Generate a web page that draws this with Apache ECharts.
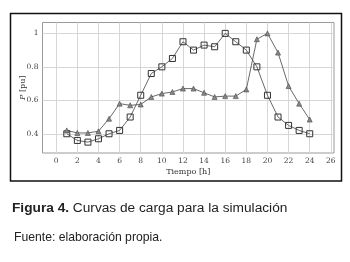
<!DOCTYPE html>
<html>
<head>
<meta charset="utf-8">
<script src="https://cdn.jsdelivr.net/npm/echarts@6/dist/echarts.min.js"></script>
<style>
  html, body { margin: 0; padding: 0; background: #fff; }
  #chart { width: 350px; height: 262px; }
</style>
</head>
<body>
<div id="chart"></div>
<script>
// hours of the day
const hours = [1, 2, 3, 4, 5, 6, 7, 8, 9, 10, 11, 12, 13, 14, 15, 16, 17, 18, 19, 20, 21, 22, 23, 24];
// load curve with square marks
const squareLoad = [0.40, 0.36, 0.35, 0.37, 0.40, 0.42, 0.50, 0.63, 0.76, 0.80, 0.85, 0.95,
  0.90, 0.93, 0.92, 1.00, 0.95, 0.90, 0.80, 0.63, 0.50, 0.45, 0.42, 0.40];
// load curve with triangle marks
const triangleLoad = [0.42, 0.405, 0.405, 0.415, 0.49, 0.58, 0.57, 0.575, 0.62, 0.64, 0.65, 0.67,
  0.67, 0.645, 0.62, 0.625, 0.625, 0.665, 0.965, 1.00, 0.885, 0.685, 0.58, 0.485];
const xTicks = [0, 2, 4, 6, 8, 10, 12, 14, 16, 18, 20, 22, 24, 26];
const yTicks = [0.4, 0.6, 0.8, 1];

const serif = '"DejaVu Serif", "Liberation Serif", serif';
const sans = '"Liberation Sans", Arial, sans-serif';

const toPairs = (xs, ys) => xs.map((x, i) => [x, ys[i]]);

const chart = echarts.init(document.getElementById('chart'), null, { renderer: 'canvas' });

// grid lines drawn as mark lines at the tick values
const gridLines = xTicks.map(v => ({ xAxis: v })).concat(yTicks.map(v => ({ yAxis: v })));

const option = {
  animation: false,
  grid: {
    left: 42.5, top: 22.5, width: 291.5, height: 130.5,
    show: true, borderColor: '#9a9a9a', borderWidth: 1
  },
  xAxis: {
    type: 'value',
    min: -1.3, max: 26.3,
    name: 'Tiempo [h]',
    nameLocation: 'middle',
    nameGap: 15,
    nameMoveOverlap: false,
    nameTextStyle: { fontFamily: serif, fontSize: 8, color: '#333' },
    axisLine: { show: false },
    axisTick: { show: true, inside: true, length: 2, customValues: xTicks, lineStyle: { color: '#999' } },
    axisLabel: { customValues: xTicks, fontFamily: serif, fontSize: 7.5, color: '#444', margin: 4 },
    splitLine: { show: false }
  },
  yAxis: {
    type: 'value',
    min: 0.285, max: 1.065,
    name: '{i|P} [pu]',
    nameLocation: 'middle',
    nameGap: 16,
    nameRotate: 90,
    nameMoveOverlap: false,
    nameTextStyle: {
      fontFamily: serif, fontSize: 8, color: '#333',
      rich: { i: { fontFamily: serif, fontStyle: 'italic', fontSize: 8, color: '#333' } }
    },
    axisLine: { show: false },
    axisTick: { show: true, inside: true, length: 2, customValues: yTicks, lineStyle: { color: '#999' } },
    axisLabel: { customValues: yTicks, fontFamily: serif, fontSize: 7.5, color: '#444', margin: 4 },
    splitLine: { show: false }
  },
  series: [
    {
      type: 'line',
      data: toPairs(hours, squareLoad),
      symbol: 'rect',
      symbolSize: 6,
      showAllSymbol: true,
      z: 3,
      lineStyle: { color: '#444', width: 0.8 },
      itemStyle: { color: 'rgba(255,255,255,0)', borderColor: '#333', borderWidth: 1 },
      markLine: {
        silent: true,
        symbol: ['none', 'none'],
        label: { show: false },
        z: 1,
        lineStyle: { color: '#d6d6d6', width: 1, type: 'solid' },
        data: gridLines
      }
    },
    {
      type: 'line',
      data: toPairs(hours, triangleLoad),
      symbol: 'triangle',
      symbolSize: 5,
      showAllSymbol: true,
      z: 3,
      lineStyle: { color: '#444', width: 0.8 },
      itemStyle: { color: '#888', borderColor: '#444', borderWidth: 0.6 }
    }
  ],
  graphic: [
    {
      type: 'rect',
      shape: { x: 10.5, y: 13.5, width: 331, height: 167.5 },
      style: { fill: 'none', stroke: '#111', lineWidth: 1.5 },
      silent: true
    },
    {
      type: 'text',
      left: 12, top: 201,
      style: {
        text: '{b|Figura 4.} Curvas de carga para la simulación',
        font: '13.7px ' + sans,
        fill: '#222',
        rich: { b: { fontWeight: 'bold', fontFamily: sans, fontSize: 13.7, fill: '#222' } }
      }
    },
    {
      type: 'text',
      left: 14, top: 232,
      style: { text: 'Fuente: elaboración propia.', font: '12.2px ' + sans, fill: '#222' }
    }
  ]
};

chart.setOption(option);
</script>
</body>
</html>
